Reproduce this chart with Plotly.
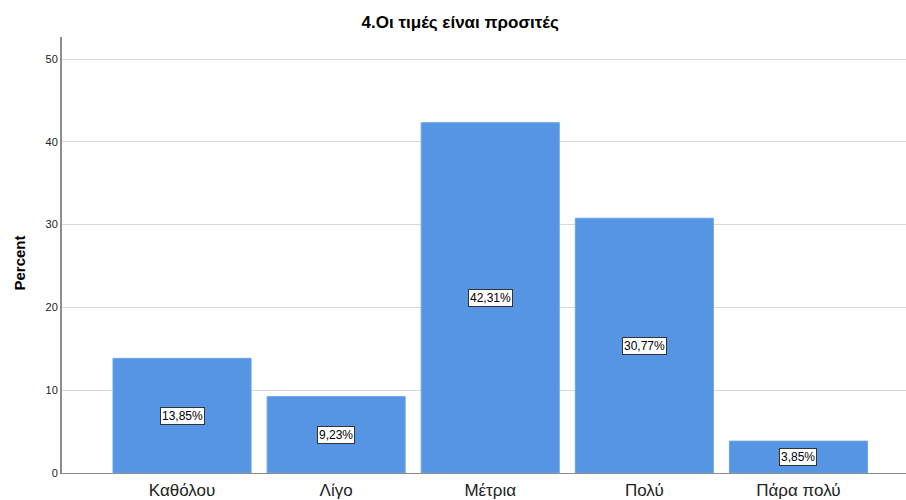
import plotly.graph_objects as go

categories = ["Καθόλου", "Λίγο", "Μέτρια", "Πολύ", "Πάρα πολύ"]
percent = [13.85, 9.23, 42.31, 30.77, 3.85]
labels = ["13,85%", "9,23%", "42,31%", "30,77%", "3,85%"]
title = "4.Οι τιμές είναι προσιτές"
y_ticks = [0, 10, 20, 30, 40, 50]

FONT = "Arial, Liberation Sans, sans-serif"

fig = go.Figure(go.Bar(
    x=list(range(len(categories))),
    y=percent,
    width=0.896,
    marker=dict(color="#5595e4", line=dict(color="#6aa5ea", width=1)),
    hoverinfo="skip",
))

for i, (v, t) in enumerate(zip(percent, labels)):
    fig.add_annotation(x=i, y=v / 2, text=t, showarrow=False,
                       font=dict(family=FONT, size=12, color="#000000"),
                       bgcolor="#ffffff", bordercolor="#333333", borderwidth=1,
                       borderpad=1)

fig.add_annotation(xref="paper", yref="paper", x=0, y=0.5, xshift=-54,
                   yshift=-8,
                   text="<b>Percent</b>", textangle=-90, showarrow=False,
                   font=dict(family=FONT, size=15, color="#000000"))

fig.update_layout(
    width=906, height=500,
    margin=dict(l=62, r=0, t=37, b=27),
    paper_bgcolor="#ffffff", plot_bgcolor="#ffffff",
    title=dict(text="<b>" + title + "</b>", x=0.508, xanchor="center",
               y=1 - 22 / 500, yanchor="middle", yref="container",
               font=dict(family=FONT, size=17, color="#000000")),
    showlegend=False,
    xaxis=dict(range=[-0.779, 4.698], tickvals=list(range(len(categories))),
               ticktext=categories, showgrid=False, zeroline=False,
               showline=True, linecolor="#8c8c8c", linewidth=1,
               ticks="", tickfont=dict(family=FONT, size=17, color="#222222"),
               ticklabelstandoff=2),
    yaxis=dict(range=[0, 52.66], tickvals=y_ticks, showgrid=True,
               gridcolor="#d9d9d9", gridwidth=1, zeroline=False,
               showline=True, linecolor="#8c8c8c", linewidth=2,
               ticks="", tickfont=dict(family=FONT, size=11, color="#222222")),
)

fig.write_html("out.html")
